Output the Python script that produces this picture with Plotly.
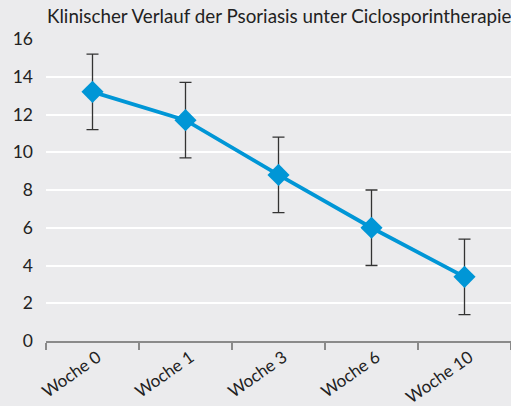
import plotly.graph_objects as go

categories = ["Woche 0", "Woche 1", "Woche 3", "Woche 6", "Woche 10"]
values = [13.2, 11.7, 8.8, 6.0, 3.4]
errors = [2.0, 2.0, 2.0, 2.0, 2.0]
y_ticks = [0, 2, 4, 6, 8, 10, 12, 14, 16]

fig = go.Figure()
fig.add_trace(go.Scatter(
    x=categories, y=values, mode="lines+markers",
    line=dict(color="#0096d6", width=3.8),
    marker=dict(symbol="diamond", size=17, color="#0096d6"),
    error_y=dict(type="data", array=errors, visible=True, color="#333333",
                 thickness=1.3, width=6),
    showlegend=False,
))

fig.update_layout(
    width=511, height=406,
    margin=dict(l=46, r=0, t=39, b=65, autoexpand=False),
    paper_bgcolor="#ebebed", plot_bgcolor="#ebebed",
    font=dict(family="Lato, Open Sans, sans-serif", color="#222222", size=17),
    title=dict(text="Klinischer Verlauf der Psoriasis unter Ciclosporintherapie",
               x=0, xref="paper", xanchor="left", y=1, yref="container",
               yanchor="top", pad=dict(t=10, l=1),
               font=dict(size=18.8, color="#222222")),
    xaxis=dict(range=[-0.5, 4.5], tickson="boundaries", ticks="outside",
               ticklen=7, tickwidth=2, tickcolor="#8a8a8a",
               showline=True, linecolor="#8a8a8a", linewidth=2,
               showgrid=False, tickangle=-35, tickfont=dict(size=17),
               ticklabelshift=5, ticklabelstandoff=-2),
    yaxis=dict(range=[0, 16], tickvals=y_ticks, showgrid=True,
               gridcolor="#ffffff", gridwidth=2, zeroline=False,
               showline=False, ticks="", ticklabelstandoff=12,
               tickfont=dict(size=17.5)),
)

fig.write_html("out.html", config={"displayModeBar": False},
               post_script="document.body.style.margin='0';document.body.style.padding='0';")
